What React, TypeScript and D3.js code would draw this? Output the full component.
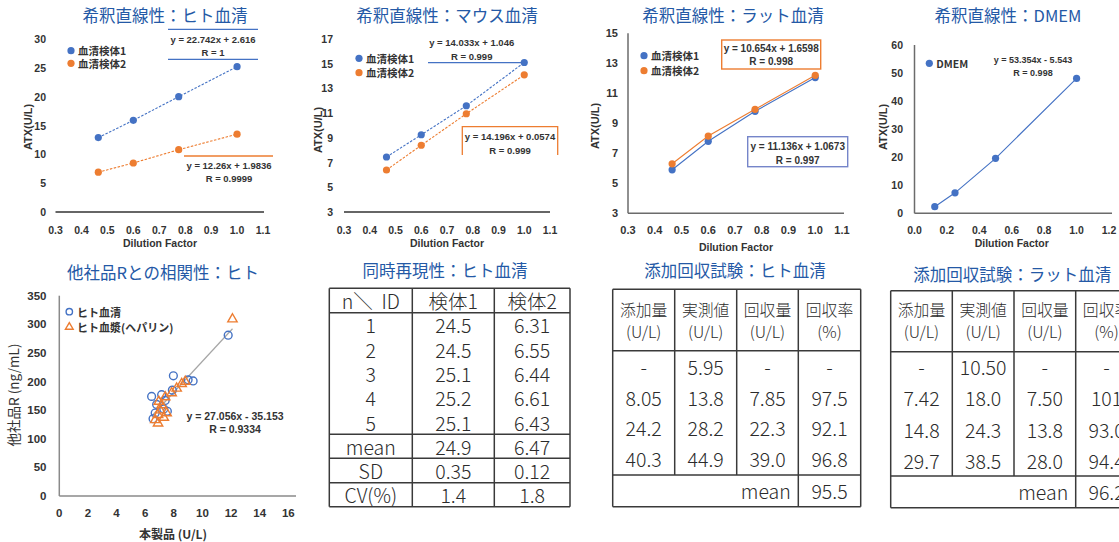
import React from "react";
import * as d3 from "d3";

// ---------- data ----------
const dilution = [0.465, 0.6, 0.775, 1.0];
const humanSerum1 = [12.9, 15.9, 20.0, 25.2];
const humanSerum2 = [6.9, 8.5, 10.8, 13.5];
const mouseSerum1 = [7.45, 9.25, 11.6, 15.1];
const mouseSerum2 = [6.4, 8.4, 10.95, 14.1];
const ratSerum1 = [5.9, 7.8, 9.8, 12.05];
const ratSerum2 = [6.3, 8.15, 9.93, 12.2];
const dmemDilution = [0.125, 0.25, 0.5, 1.0];
const dmemValues = [2.35, 7.3, 19.6, 48.1];

const serumX = [11.8, 7.97, 9.0, 9.35, 7.9, 6.45, 7.15, 7.4, 6.8, 7.55, 6.7, 6.55, 7.3];
const serumY = [281, 210, 203, 201, 185, 174, 177, 167, 160, 148, 145, 135, 152];
const plasmaX = [12.1, 8.8, 8.55, 8.2, 7.85, 7.4, 6.95, 7.15, 7.05, 6.9, 6.7, 6.9, 7.3, 7.5];
const plasmaY = [309, 200, 196, 188, 180, 173, 165, 159, 150, 142, 133, 127, 137, 145];
const corrSlope = 27.056;
const corrIntercept = -35.153;

const repN = ["1", "2", "3", "4", "5"];
const rep1 = ["24.5", "24.5", "25.1", "25.2", "25.1"];
const rep2 = ["6.31", "6.55", "6.44", "6.61", "6.43"];
const repStatLabels = ["mean", "SD", "CV(%)"];
const repStat1 = ["24.9", "0.35", "1.4"];
const repStat2 = ["6.47", "0.12", "1.8"];

const recHeaders = ["添加量", "実測値", "回収量", "回収率"];
const recUnits = ["(U/L)", "(U/L)", "(U/L)", "(%)"];
const humanAdded = ["-", "8.05", "24.2", "40.3"];
const humanMeasured = ["5.95", "13.8", "28.2", "44.9"];
const humanRecovered = ["-", "7.85", "22.3", "39.0"];
const humanRate = ["-", "97.5", "92.1", "96.8"];
const humanMean = "95.5";
const ratAdded = ["-", "7.42", "14.8", "29.7"];
const ratMeasured = ["10.50", "18.0", "24.3", "38.5"];
const ratRecovered = ["-", "7.50", "13.8", "28.0"];
const ratRate = ["-", "101", "93.0", "94.4"];
const ratMean = "96.2";

// ---------- styles ----------
const BLUE = "#4472C4";
const ORANGE = "#ED7D31";
const TITLE = "#2459a6";
const JP = "'Noto Sans CJK JP', 'Noto Sans', sans-serif";
const LAT = "'Liberation Sans', Arial, sans-serif";

type Series = { xs: number[]; ys: number[]; color: string; name: string };
type Cfg = {
  title: string; titleX: number; titleY: number;
  xDomain: [number, number]; xRange: [number, number]; xTicks: number[]; xDigits: number;
  yDomain: [number, number]; yRange: [number, number]; yTicks: number[];
  yLabelX: number; xLabelY: number; yAxisLine: boolean; axisColor: string; xAxisEnd: number;
  dashed: boolean; series: Series[]; legend: [number, number][];
  xTitle: [number, number]; yTitle: [number, number]; tickSize: number;
};

function LineChart({ c, children }: { c: Cfg; children?: React.ReactNode }) {
  const x = d3.scaleLinear().domain(c.xDomain).range(c.xRange);
  const y = d3.scaleLinear().domain(c.yDomain).range(c.yRange);
  const fmt = d3.format(`.${c.xDigits}f`);
  return (
    <g>
      <text x={c.titleX} y={c.titleY} textAnchor="middle" dominantBaseline="central" fontFamily={JP} fontSize={16.5} fill={TITLE}>{c.title}</text>
      {c.yTicks.map((t) => (
        <text key={"y" + t} x={c.yLabelX} y={y(t)} textAnchor="end" dominantBaseline="central" fontFamily={LAT} fontWeight="bold" fontSize={c.tickSize} fill="#333">{t}</text>
      ))}
      {c.xTicks.map((t) => (
        <text key={"x" + t} x={x(t)} y={c.xLabelY} textAnchor="middle" dominantBaseline="central" fontFamily={LAT} fontWeight="bold" fontSize={c.tickSize} fill="#333">{fmt(t)}</text>
      ))}
      {c.yAxisLine && <line x1={x(c.xDomain[0])} x2={x(c.xDomain[0])} y1={y(c.yDomain[1])} y2={y(c.yDomain[0])} stroke={c.axisColor} strokeWidth={1.5} />}
      <line x1={x(c.xDomain[0])} x2={c.xAxisEnd} y1={y(c.yDomain[0])} y2={y(c.yDomain[0])} stroke={c.axisColor} strokeWidth={1.5} />
      <text x={c.xTitle[0]} y={c.xTitle[1]} textAnchor="middle" dominantBaseline="central" fontFamily={LAT} fontWeight="bold" fontSize={10.5} fill="#333">Dilution Factor</text>
      <text transform={`translate(${c.yTitle[0]},${c.yTitle[1]}) rotate(-90)`} textAnchor="middle" dominantBaseline="central" fontFamily={LAT} fontWeight="bold" fontSize={11} fill="#333">ATX(U/L)</text>
      {c.series.map((s, si) => {
        const line = d3.line<number>().x((d, i) => x(s.xs[i])).y((d) => y(d));
        return (
          <g key={si}>
            <path d={line(s.ys) || ""} fill="none" stroke={s.color} strokeWidth={1.1} strokeDasharray={c.dashed ? "2.5,1.5" : undefined} />
            {s.ys.map((v, i) => (
              <circle key={i} cx={x(s.xs[i])} cy={y(v)} r={3.6} fill={s.color} />
            ))}
            <circle cx={c.legend[si][0]} cy={c.legend[si][1]} r={3.6} fill={s.color} />
            <text x={c.legend[si][0] + 7} y={c.legend[si][1]} dominantBaseline="central" fontFamily={JP} fontWeight="bold" fontSize={10.5} fill="#333">{s.name}</text>
          </g>
        );
      })}
      {children}
    </g>
  );
}

function Eq({ x, y, lines, size = 9.5 }: { x: number; y: number; lines: string[]; size?: number }) {
  return (
    <g>
      {lines.map((l, i) => (
        <text key={i} x={x} y={y + i * 13.3} textAnchor="middle" dominantBaseline="central" fontFamily={LAT} fontWeight="bold" fontSize={size} fill="#333">{l}</text>
      ))}
    </g>
  );
}

const dil01 = d3.range(3, 12).map((v) => v / 10);

const chart1: Cfg = {
  title: "希釈直線性：ヒト血清", titleX: 165, titleY: 15,
  xDomain: [0.3, 1.1], xRange: [55.5, 263], xTicks: dil01, xDigits: 1,
  yDomain: [0, 30], yRange: [212, 39], yTicks: d3.range(0, 31, 5),
  yLabelX: 46, xLabelY: 229.5, yAxisLine: false, axisColor: "#333", xAxisEnd: 264,
  dashed: true,
  series: [
    { xs: dilution, ys: humanSerum1, color: BLUE, name: "血清検体1" },
    { xs: dilution, ys: humanSerum2, color: ORANGE, name: "血清検体2" },
  ],
  legend: [[71, 50.7], [71, 63.3]], xTitle: [160, 243.3], yTitle: [28, 127], tickSize: 10.5,
};
const chart2: Cfg = {
  title: "希釈直線性：マウス血清", titleX: 447, titleY: 15,
  xDomain: [0.3, 1.1], xRange: [344, 550], xTicks: dil01, xDigits: 1,
  yDomain: [3, 17], yRange: [212, 39], yTicks: d3.range(3, 18, 2),
  yLabelX: 333, xLabelY: 229.5, yAxisLine: false, axisColor: "#333", xAxisEnd: 550,
  dashed: true,
  series: [
    { xs: dilution, ys: mouseSerum1, color: BLUE, name: "血清検体1" },
    { xs: dilution, ys: mouseSerum2, color: ORANGE, name: "血清検体2" },
  ],
  legend: [[359, 58.3], [359, 72.7]], xTitle: [447, 243.3], yTitle: [318, 130], tickSize: 10.5,
};
const chart3: Cfg = {
  title: "希釈直線性：ラット血清", titleX: 733, titleY: 15,
  xDomain: [0.3, 1.1], xRange: [628, 842], xTicks: dil01, xDigits: 1,
  yDomain: [3, 15], yRange: [213.3, 33.3], yTicks: d3.range(3, 16, 2),
  yLabelX: 618, xLabelY: 230, yAxisLine: true, axisColor: "#6b6b6b", xAxisEnd: 844,
  dashed: false,
  series: [
    { xs: dilution, ys: ratSerum1, color: BLUE, name: "血清検体1" },
    { xs: dilution, ys: ratSerum2, color: ORANGE, name: "血清検体2" },
  ],
  legend: [[644, 55.7], [644, 70.7]], xTitle: [736, 246.5], yTitle: [595, 126], tickSize: 11,
};
const chart4: Cfg = {
  title: "希釈直線性：DMEM", titleX: 1008, titleY: 15,
  xDomain: [0, 1.2], xRange: [914.5, 1109], xTicks: d3.range(0, 13, 2).map((v) => v / 10), xDigits: 1,
  yDomain: [0, 60], yRange: [213.3, 45], yTicks: d3.range(0, 61, 10),
  yLabelX: 903, xLabelY: 229.5, yAxisLine: true, axisColor: "#6b6b6b", xAxisEnd: 1112,
  dashed: false,
  series: [{ xs: dmemDilution, ys: dmemValues, color: BLUE, name: "DMEM" }],
  legend: [[929.3, 63.3]], xTitle: [1011.7, 242.7], yTitle: [883, 127], tickSize: 10.5,
};

function Scatter() {
  const x = d3.scaleLinear().domain([0, 16]).range([59.3, 288.3]);
  const y = d3.scaleLinear().domain([0, 350]).range([496, 295.7]);
  const allX = serumX.concat(plasmaX);
  const [x0, x1] = d3.extent(allX) as [number, number];
  const tri = d3.symbol().type(d3.symbolTriangle).size(38)();
  return (
    <g>
      <text x={163} y={271.5} textAnchor="middle" dominantBaseline="central" fontFamily={JP} fontSize={16.5} fill={TITLE}>他社品Rとの相関性：ヒト</text>
      {d3.range(0, 351, 50).map((t) => (
        <text key={"y" + t} x={46.5} y={y(t)} textAnchor="end" dominantBaseline="central" fontFamily={LAT} fontWeight="bold" fontSize={11.5} fill="#333">{t}</text>
      ))}
      {d3.range(0, 17, 2).map((t) => (
        <text key={"x" + t} x={x(t)} y={513.3} textAnchor="middle" dominantBaseline="central" fontFamily={LAT} fontWeight="bold" fontSize={11.5} fill="#333">{t}</text>
      ))}
      <line x1={x(0)} x2={x(0)} y1={y(350)} y2={y(0)} stroke="#8a8a8a" strokeWidth={1.5} />
      <line x1={x(0)} x2={296} y1={y(0)} y2={y(0)} stroke="#8a8a8a" strokeWidth={1.5} />
      <text x={173} y={533} textAnchor="middle" dominantBaseline="central" fontFamily={JP} fontWeight="bold" fontSize={12} fill="#333">本製品 (U/L)</text>
      <text transform="translate(13,395) rotate(-90)" textAnchor="middle" dominantBaseline="central" fontFamily={JP} fontSize={13.5} fill="#333">他社品R (ng/mL)</text>
      <line x1={x(x0)} x2={x(x1)} y1={y(corrSlope * x0 + corrIntercept)} y2={y(corrSlope * x1 + corrIntercept)} stroke="#a6a6a6" strokeWidth={1.2} />
      {serumX.map((v, i) => (
        <circle key={"s" + i} cx={x(v)} cy={y(serumY[i])} r={3.9} fill="none" stroke={BLUE} strokeWidth={1.4} />
      ))}
      {plasmaX.map((v, i) => (
        <path key={"p" + i} d={tri || ""} transform={`translate(${x(v)},${y(plasmaY[i])})`} fill="none" stroke={ORANGE} strokeWidth={1.4} />
      ))}
      <circle cx={69.3} cy={311.7} r={3.2} fill="none" stroke={BLUE} strokeWidth={1.4} />
      <text x={77} y={311.7} dominantBaseline="central" fontFamily={JP} fontWeight="bold" fontSize={11} fill="#333">ヒト血清</text>
      <path d={d3.symbol().type(d3.symbolTriangle).size(26)() || ""} transform="translate(69.3,327)" fill="none" stroke={ORANGE} strokeWidth={1.4} />
      <text x={77} y={326.7} dominantBaseline="central" fontFamily={JP} fontWeight="bold" fontSize={11} fill="#333">ヒト血漿(ヘパリン)</text>
      <Eq x={235} y={416} lines={["y = 27.056x - 35.153", "R = 0.9334"]} size={10.5} />
    </g>
  );
}

const TXT = "#2b2b2b";
const BORDER = "#3a3a3a";

function RepTable() {
  const xs = [329.3, 412.3, 494.3, 570];
  const top = 288.3, headB = 312.7, rowH = 24.32;
  const dataB = headB + rowH * 5;
  const statLines = [dataB, dataB + 24, dataB + 48.4, dataB + 72.4];
  const cx = [0, 1, 2].map((i) => (xs[i] + xs[i + 1]) / 2);
  const T = (x: number, y: number, s: string, k: string) => (
    <text key={k} x={x} y={y} textAnchor="middle" dominantBaseline="central" fontFamily={JP} fontWeight={300} fontSize={19.5} fill={TXT} style={{ whiteSpace: "pre" }}>{s}</text>
  );
  return (
    <g>
      <text x={445} y={270} textAnchor="middle" dominantBaseline="central" fontFamily={JP} fontSize={16.5} fill={TITLE}>同時再現性：ヒト血清</text>
      {xs.map((x, i) => <line key={"v" + i} x1={x} x2={x} y1={top} y2={statLines[3]} stroke={BORDER} strokeWidth={1.5} />)}
      {[top, headB, ...statLines].map((y, i) => <line key={"h" + i} x1={xs[0]} x2={xs[3]} y1={y} y2={y} stroke={BORDER} strokeWidth={1.5} />)}
      {T(cx[0], (top + headB) / 2, "n＼  ID", "h0")}
      {T(cx[1], (top + headB) / 2, "検体1", "h1")}
      {T(cx[2], (top + headB) / 2, "検体2", "h2")}
      {repN.map((n, i) => {
        const y = headB + rowH * (i + 0.5);
        return [T(cx[0], y, n, "a" + i), T(cx[1], y, rep1[i], "b" + i), T(cx[2], y, rep2[i], "c" + i)];
      })}
      {repStatLabels.map((n, i) => {
        const y = (statLines[i] + statLines[i + 1]) / 2;
        return [T(cx[0], y, n, "sa" + i), T(cx[1], y, repStat1[i], "sb" + i), T(cx[2], y, repStat2[i], "sc" + i)];
      })}
    </g>
  );
}

function RecTable({ title, titleX, titleY, xs, top, headB, dataB, bottom, rowYs, hy, cols, mean }: {
  title: string; titleX: number; titleY: number; xs: number[]; top: number; headB: number; dataB: number; bottom: number;
  rowYs: number[]; hy: number[]; cols: string[][]; mean: string;
}) {
  const cx = [0, 1, 2, 3].map((i) => (xs[i] + xs[i + 1]) / 2);
  return (
    <g>
      <text x={titleX} y={titleY} textAnchor="middle" dominantBaseline="central" fontFamily={JP} fontSize={16.5} fill={TITLE}>{title}</text>
      {xs.map((x, i) => (
        <line key={"v" + i} x1={x} x2={x} y1={top} y2={i === 0 || i >= 3 ? bottom : dataB} stroke={BORDER} strokeWidth={1.5} />
      ))}
      {[top, headB, dataB, bottom].map((y, i) => <line key={"h" + i} x1={xs[0]} x2={xs[4]} y1={y} y2={y} stroke={BORDER} strokeWidth={1.5} />)}
      {recHeaders.map((h, i) => (
        <g key={"hd" + i}>
          <text x={cx[i]} y={hy[0]} textAnchor="middle" dominantBaseline="central" fontFamily={JP} fontWeight={300} fontSize={15.8} fill={TXT}>{h}</text>
          <text x={cx[i]} y={hy[1]} textAnchor="middle" dominantBaseline="central" fontFamily={JP} fontWeight={300} fontSize={16} fill={TXT}>{recUnits[i]}</text>
        </g>
      ))}
      {cols.map((col, ci) => col.map((v, ri) => (
        <text key={ci + "-" + ri} x={cx[ci]} y={rowYs[ri]} textAnchor="middle" dominantBaseline="central" fontFamily={JP} fontWeight={300} fontSize={19.5} fill={TXT}>{v}</text>
      )))}
      <text x={xs[3] - 7.5} y={(dataB + bottom) / 2} textAnchor="end" dominantBaseline="central" fontFamily={JP} fontWeight={300} fontSize={19.5} fill={TXT}>mean</text>
      <text x={cx[3]} y={(dataB + bottom) / 2} textAnchor="middle" dominantBaseline="central" fontFamily={JP} fontWeight={300} fontSize={19.5} fill={TXT}>{mean}</text>
    </g>
  );
}

export default function App() {
  return (
    <svg width={1119} height={542} style={{ position: "absolute", left: 0, top: 0, background: "#fff" }}>
      <rect width={1119} height={542} fill="#fff" />
      <LineChart c={chart1}>
        <line x1={168} x2={258} y1={29.3} y2={29.3} stroke={BLUE} strokeWidth={1.3} />
        <line x1={168} x2={258} y1={59.3} y2={59.3} stroke={BLUE} strokeWidth={1.3} />
        <Eq x={213} y={39.3} lines={["y = 22.742x + 2.616", "R = 1"]} />
        <line x1={184} x2={273} y1={156} y2={156} stroke={ORANGE} strokeWidth={1.3} />
        <Eq x={229} y={165} lines={["y = 12.26x + 1.9836", "R = 0.9999"]} />
      </LineChart>
      <LineChart c={chart2}>
        <Eq x={471.7} y={42.7} lines={["y = 14.033x + 1.046", "R = 0.999"]} />
        <line x1={428} x2={523} y1={62.7} y2={62.7} stroke={BLUE} strokeWidth={1.3} />
        <path d="M462.3,155V126.7H557.7V155" fill="none" stroke={ORANGE} strokeWidth={1.3} />
        <Eq x={510} y={136.7} lines={["y = 14.196x + 0.0574", "R = 0.999"]} />
      </LineChart>
      <LineChart c={chart3}>
        <rect x={721.7} y={40} width={99} height={29} fill="#fff" stroke={ORANGE} strokeWidth={1.4} />
        <Eq x={771.2} y={48.3} lines={["y = 10.654x + 1.6598", "R = 0.998"]} size={10} />
        <rect x={747.7} y={136.7} width={100} height={30} fill="#fff" stroke="#7585c9" strokeWidth={1.4} />
        <Eq x={797.7} y={146.7} lines={["y = 11.136x + 1.0673", "R = 0.997"]} size={10} />
      </LineChart>
      <LineChart c={chart4}>
        <Eq x={1033} y={60} lines={["y = 53.354x - 5.543", "R = 0.998"]} size={9} />
      </LineChart>
      <Scatter />
      <RepTable />
      <RecTable title="添加回収試験：ヒト血清" titleX={735} titleY={270}
        xs={[612.7, 674.7, 736.7, 798.3, 860.7]} top={289.3} headB={350.7} dataB={475} bottom={506.7}
        rowYs={[366.7, 397.7, 427.7, 458.3]} hy={[309.5, 330.5]}
        cols={[humanAdded, humanMeasured, humanRecovered, humanRate]} mean={humanMean} />
      <RecTable title="添加回収試験：ラット血清" titleX={1012.3} titleY={274.3}
        xs={[890.7, 952.3, 1014, 1075.7, 1137.4]} top={290.7} headB={351.7} dataB={476} bottom={507.7}
        rowYs={[366.7, 397.7, 429, 460]} hy={[309.5, 331]}
        cols={[ratAdded, ratMeasured, ratRecovered, ratRate]} mean={ratMean} />
    </svg>
  );
}
